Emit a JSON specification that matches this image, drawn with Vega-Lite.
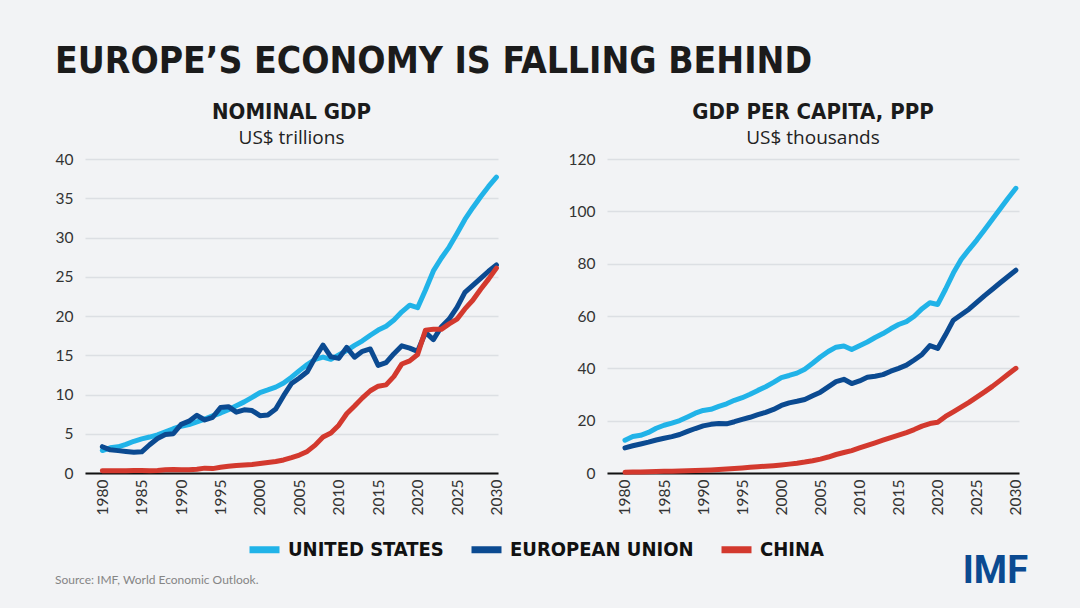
{
  "$schema": "https://vega.github.io/schema/vega-lite/v6.json",
  "background": "#f2f3f5",
  "padding": {"left": 55, "top": 43, "right": 52, "bottom": 30},
  "title": {
    "text": "EUROPE’S ECONOMY IS FALLING BEHIND",
    "anchor": "start",
    "frame": "bounds",
    "font": "'DejaVu Sans Condensed', Roboto",
    "fontSize": 37,
    "fontWeight": "bold",
    "color": "#1b1b1b",
    "offset": 20
  },
  "datasets": {
    "gdp": [
      {"year": 1980, "UNITED STATES": 2.86, "EUROPEAN UNION": 3.35, "CHINA": 0.30},
      {"year": 1981, "UNITED STATES": 3.21, "EUROPEAN UNION": 2.95, "CHINA": 0.29},
      {"year": 1982, "UNITED STATES": 3.34, "EUROPEAN UNION": 2.85, "CHINA": 0.28},
      {"year": 1983, "UNITED STATES": 3.64, "EUROPEAN UNION": 2.75, "CHINA": 0.30},
      {"year": 1984, "UNITED STATES": 4.04, "EUROPEAN UNION": 2.65, "CHINA": 0.31},
      {"year": 1985, "UNITED STATES": 4.34, "EUROPEAN UNION": 2.70, "CHINA": 0.31},
      {"year": 1986, "UNITED STATES": 4.58, "EUROPEAN UNION": 3.60, "CHINA": 0.30},
      {"year": 1987, "UNITED STATES": 4.86, "EUROPEAN UNION": 4.40, "CHINA": 0.33},
      {"year": 1988, "UNITED STATES": 5.24, "EUROPEAN UNION": 4.90, "CHINA": 0.41},
      {"year": 1989, "UNITED STATES": 5.64, "EUROPEAN UNION": 5.00, "CHINA": 0.46},
      {"year": 1990, "UNITED STATES": 5.96, "EUROPEAN UNION": 6.20, "CHINA": 0.40},
      {"year": 1991, "UNITED STATES": 6.16, "EUROPEAN UNION": 6.60, "CHINA": 0.41},
      {"year": 1992, "UNITED STATES": 6.52, "EUROPEAN UNION": 7.35, "CHINA": 0.49},
      {"year": 1993, "UNITED STATES": 6.86, "EUROPEAN UNION": 6.75, "CHINA": 0.62},
      {"year": 1994, "UNITED STATES": 7.29, "EUROPEAN UNION": 7.10, "CHINA": 0.56},
      {"year": 1995, "UNITED STATES": 7.64, "EUROPEAN UNION": 8.35, "CHINA": 0.73},
      {"year": 1996, "UNITED STATES": 8.07, "EUROPEAN UNION": 8.45, "CHINA": 0.86},
      {"year": 1997, "UNITED STATES": 8.58, "EUROPEAN UNION": 7.75, "CHINA": 0.96},
      {"year": 1998, "UNITED STATES": 9.06, "EUROPEAN UNION": 8.05, "CHINA": 1.03},
      {"year": 1999, "UNITED STATES": 9.63, "EUROPEAN UNION": 7.95, "CHINA": 1.09},
      {"year": 2000, "UNITED STATES": 10.25, "EUROPEAN UNION": 7.30, "CHINA": 1.21},
      {"year": 2001, "UNITED STATES": 10.58, "EUROPEAN UNION": 7.40, "CHINA": 1.34},
      {"year": 2002, "UNITED STATES": 10.94, "EUROPEAN UNION": 8.15, "CHINA": 1.47},
      {"year": 2003, "UNITED STATES": 11.46, "EUROPEAN UNION": 9.85, "CHINA": 1.66},
      {"year": 2004, "UNITED STATES": 12.21, "EUROPEAN UNION": 11.40, "CHINA": 1.96},
      {"year": 2005, "UNITED STATES": 13.04, "EUROPEAN UNION": 12.10, "CHINA": 2.29},
      {"year": 2006, "UNITED STATES": 13.82, "EUROPEAN UNION": 12.90, "CHINA": 2.75},
      {"year": 2007, "UNITED STATES": 14.47, "EUROPEAN UNION": 14.70, "CHINA": 3.55},
      {"year": 2008, "UNITED STATES": 14.77, "EUROPEAN UNION": 16.30, "CHINA": 4.59},
      {"year": 2009, "UNITED STATES": 14.48, "EUROPEAN UNION": 14.80, "CHINA": 5.10},
      {"year": 2010, "UNITED STATES": 15.05, "EUROPEAN UNION": 14.60, "CHINA": 6.09},
      {"year": 2011, "UNITED STATES": 15.60, "EUROPEAN UNION": 16.00, "CHINA": 7.55},
      {"year": 2012, "UNITED STATES": 16.25, "EUROPEAN UNION": 14.75, "CHINA": 8.53},
      {"year": 2013, "UNITED STATES": 16.84, "EUROPEAN UNION": 15.50, "CHINA": 9.57},
      {"year": 2014, "UNITED STATES": 17.55, "EUROPEAN UNION": 15.80, "CHINA": 10.48},
      {"year": 2015, "UNITED STATES": 18.21, "EUROPEAN UNION": 13.70, "CHINA": 11.06},
      {"year": 2016, "UNITED STATES": 18.70, "EUROPEAN UNION": 14.05, "CHINA": 11.23},
      {"year": 2017, "UNITED STATES": 19.48, "EUROPEAN UNION": 15.20, "CHINA": 12.31},
      {"year": 2018, "UNITED STATES": 20.53, "EUROPEAN UNION": 16.20, "CHINA": 13.89},
      {"year": 2019, "UNITED STATES": 21.38, "EUROPEAN UNION": 15.90, "CHINA": 14.28},
      {"year": 2020, "UNITED STATES": 21.06, "EUROPEAN UNION": 15.50, "CHINA": 15.10},
      {"year": 2021, "UNITED STATES": 23.32, "EUROPEAN UNION": 17.90, "CHINA": 18.20},
      {"year": 2022, "UNITED STATES": 25.74, "EUROPEAN UNION": 17.00, "CHINA": 18.30},
      {"year": 2023, "UNITED STATES": 27.36, "EUROPEAN UNION": 18.60, "CHINA": 18.30},
      {"year": 2024, "UNITED STATES": 28.78, "EUROPEAN UNION": 19.60, "CHINA": 19.00},
      {"year": 2025, "UNITED STATES": 30.50, "EUROPEAN UNION": 21.10, "CHINA": 19.60},
      {"year": 2026, "UNITED STATES": 32.30, "EUROPEAN UNION": 23.00, "CHINA": 20.90},
      {"year": 2027, "UNITED STATES": 33.80, "EUROPEAN UNION": 23.90, "CHINA": 22.00},
      {"year": 2028, "UNITED STATES": 35.20, "EUROPEAN UNION": 24.80, "CHINA": 23.40},
      {"year": 2029, "UNITED STATES": 36.50, "EUROPEAN UNION": 25.70, "CHINA": 24.70},
      {"year": 2030, "UNITED STATES": 37.70, "EUROPEAN UNION": 26.50, "CHINA": 26.10}
    ],
    "ppp": [
      {"year": 1980, "UNITED STATES": 12.55, "EUROPEAN UNION": 9.6, "CHINA": 0.31},
      {"year": 1981, "UNITED STATES": 13.95, "EUROPEAN UNION": 10.4, "CHINA": 0.36},
      {"year": 1982, "UNITED STATES": 14.41, "EUROPEAN UNION": 11.1, "CHINA": 0.41},
      {"year": 1983, "UNITED STATES": 15.51, "EUROPEAN UNION": 11.8, "CHINA": 0.47},
      {"year": 1984, "UNITED STATES": 17.09, "EUROPEAN UNION": 12.6, "CHINA": 0.55},
      {"year": 1985, "UNITED STATES": 18.24, "EUROPEAN UNION": 13.3, "CHINA": 0.63},
      {"year": 1986, "UNITED STATES": 19.07, "EUROPEAN UNION": 13.9, "CHINA": 0.69},
      {"year": 1987, "UNITED STATES": 20.04, "EUROPEAN UNION": 14.7, "CHINA": 0.78},
      {"year": 1988, "UNITED STATES": 21.42, "EUROPEAN UNION": 15.9, "CHINA": 0.88},
      {"year": 1989, "UNITED STATES": 22.86, "EUROPEAN UNION": 17.0, "CHINA": 0.95},
      {"year": 1990, "UNITED STATES": 23.89, "EUROPEAN UNION": 18.0, "CHINA": 1.01},
      {"year": 1991, "UNITED STATES": 24.34, "EUROPEAN UNION": 18.6, "CHINA": 1.13},
      {"year": 1992, "UNITED STATES": 25.47, "EUROPEAN UNION": 18.9, "CHINA": 1.31},
      {"year": 1993, "UNITED STATES": 26.46, "EUROPEAN UNION": 18.8, "CHINA": 1.52},
      {"year": 1994, "UNITED STATES": 27.78, "EUROPEAN UNION": 19.6, "CHINA": 1.74},
      {"year": 1995, "UNITED STATES": 28.78, "EUROPEAN UNION": 20.5, "CHINA": 1.95},
      {"year": 1996, "UNITED STATES": 30.07, "EUROPEAN UNION": 21.3, "CHINA": 2.16},
      {"year": 1997, "UNITED STATES": 31.57, "EUROPEAN UNION": 22.3, "CHINA": 2.38},
      {"year": 1998, "UNITED STATES": 32.95, "EUROPEAN UNION": 23.2, "CHINA": 2.58},
      {"year": 1999, "UNITED STATES": 34.62, "EUROPEAN UNION": 24.3, "CHINA": 2.80},
      {"year": 2000, "UNITED STATES": 36.45, "EUROPEAN UNION": 25.8, "CHINA": 3.08},
      {"year": 2001, "UNITED STATES": 37.27, "EUROPEAN UNION": 26.8, "CHINA": 3.39},
      {"year": 2002, "UNITED STATES": 38.17, "EUROPEAN UNION": 27.4, "CHINA": 3.74},
      {"year": 2003, "UNITED STATES": 39.68, "EUROPEAN UNION": 28.1, "CHINA": 4.17},
      {"year": 2004, "UNITED STATES": 41.93, "EUROPEAN UNION": 29.5, "CHINA": 4.68},
      {"year": 2005, "UNITED STATES": 44.31, "EUROPEAN UNION": 30.9, "CHINA": 5.32},
      {"year": 2006, "UNITED STATES": 46.44, "EUROPEAN UNION": 32.9, "CHINA": 6.11},
      {"year": 2007, "UNITED STATES": 48.09, "EUROPEAN UNION": 34.9, "CHINA": 7.07},
      {"year": 2008, "UNITED STATES": 48.57, "EUROPEAN UNION": 35.8, "CHINA": 7.82},
      {"year": 2009, "UNITED STATES": 47.19, "EUROPEAN UNION": 34.2, "CHINA": 8.58},
      {"year": 2010, "UNITED STATES": 48.65, "EUROPEAN UNION": 35.2, "CHINA": 9.56},
      {"year": 2011, "UNITED STATES": 50.07, "EUROPEAN UNION": 36.6, "CHINA": 10.59},
      {"year": 2012, "UNITED STATES": 51.78, "EUROPEAN UNION": 37.0, "CHINA": 11.55},
      {"year": 2013, "UNITED STATES": 53.29, "EUROPEAN UNION": 37.6, "CHINA": 12.53},
      {"year": 2014, "UNITED STATES": 55.12, "EUROPEAN UNION": 38.9, "CHINA": 13.50},
      {"year": 2015, "UNITED STATES": 56.76, "EUROPEAN UNION": 40.0, "CHINA": 14.45},
      {"year": 2016, "UNITED STATES": 57.87, "EUROPEAN UNION": 41.2, "CHINA": 15.45},
      {"year": 2017, "UNITED STATES": 59.91, "EUROPEAN UNION": 43.2, "CHINA": 16.60},
      {"year": 2018, "UNITED STATES": 62.81, "EUROPEAN UNION": 45.3, "CHINA": 17.90},
      {"year": 2019, "UNITED STATES": 65.08, "EUROPEAN UNION": 48.7, "CHINA": 18.90},
      {"year": 2020, "UNITED STATES": 64.41, "EUROPEAN UNION": 47.6, "CHINA": 19.40},
      {"year": 2021, "UNITED STATES": 70.22, "EUROPEAN UNION": 52.8, "CHINA": 21.60},
      {"year": 2022, "UNITED STATES": 76.40, "EUROPEAN UNION": 58.4, "CHINA": 23.40},
      {"year": 2023, "UNITED STATES": 81.60, "EUROPEAN UNION": 60.5, "CHINA": 25.20},
      {"year": 2024, "UNITED STATES": 85.40, "EUROPEAN UNION": 62.6, "CHINA": 27.00},
      {"year": 2025, "UNITED STATES": 89.00, "EUROPEAN UNION": 65.2, "CHINA": 29.00},
      {"year": 2026, "UNITED STATES": 93.00, "EUROPEAN UNION": 67.8, "CHINA": 31.00},
      {"year": 2027, "UNITED STATES": 97.00, "EUROPEAN UNION": 70.2, "CHINA": 33.10},
      {"year": 2028, "UNITED STATES": 101.00, "EUROPEAN UNION": 72.7, "CHINA": 35.40},
      {"year": 2029, "UNITED STATES": 105.00, "EUROPEAN UNION": 75.1, "CHINA": 37.70},
      {"year": 2030, "UNITED STATES": 108.80, "EUROPEAN UNION": 77.5, "CHINA": 40.00}
    ]
  },
  "vconcat": [
    {
      "hconcat": [
        {
          "width": 413,
          "height": 314,
          "title": {"text": "NOMINAL GDP", "subtitle": "US$ trillions"},
          "data": {"name": "gdp"},
          "transform": [{"fold": ["UNITED STATES", "EUROPEAN UNION", "CHINA"], "as": ["country", "value"]}],
          "mark": {"type": "line", "strokeWidth": 5, "strokeCap": "round", "strokeJoin": "round"},
          "encoding": {
            "x": {"field": "year", "type": "quantitative", "scale": {"domain": [1977.8, 2030.2], "nice": false, "zero": false}},
            "y": {"field": "value", "type": "quantitative", "scale": {"domain": [0, 40], "nice": false}, "axis": {"values": [0, 5, 10, 15, 20, 25, 30, 35, 40]}},
            "color": {
              "field": "country", "type": "nominal",
              "scale": {"domain": ["UNITED STATES", "EUROPEAN UNION", "CHINA"], "range": ["#21b3e8", "#0b4a91", "#d3392e"]},
              "legend": {"orient": "none", "legendX": 161, "legendY": 372, "direction": "horizontal"}
            }
          }
        },
        {
          "width": 412,
          "height": 314,
          "title": {"text": "GDP PER CAPITA, PPP", "subtitle": "US$ thousands"},
          "data": {"name": "ppp"},
          "transform": [{"fold": ["UNITED STATES", "EUROPEAN UNION", "CHINA"], "as": ["country", "value"]}],
          "mark": {"type": "line", "strokeWidth": 5, "strokeCap": "round", "strokeJoin": "round"},
          "encoding": {
            "x": {"field": "year", "type": "quantitative", "scale": {"domain": [1977.7, 2030.4], "nice": false, "zero": false}},
            "y": {"field": "value", "type": "quantitative", "scale": {"domain": [0, 120], "nice": false}, "axis": {"values": [0, 20, 40, 60, 80, 100, 120]}},
            "color": {
              "field": "country", "type": "nominal",
              "scale": {"domain": ["UNITED STATES", "EUROPEAN UNION", "CHINA"], "range": ["#21b3e8", "#0b4a91", "#d3392e"]},
              "legend": {"orient": "none", "legendX": 161, "legendY": 372, "direction": "horizontal"}
            }
          }
        }
      ],
      "spacing": 63
    },
    {
      "hconcat": [
        {
          "width": 400, "height": 1,
          "title": {"text": "Source: IMF, World Economic Outlook.", "anchor": "start", "frame": "group", "font": "Lato", "fontSize": 12, "fontWeight": "normal", "color": "#858585", "offset": 0, "baseline": "alphabetic", "dx": -30, "dy": -25},
          "data": {"values": []},
          "mark": "text"
        },
        {
          "width": 543, "height": 1,
          "title": {"text": "IMF", "anchor": "end", "frame": "group", "font": "Roboto", "fontSize": 38, "fontWeight": "bold", "color": "#0b4a91", "offset": 0, "baseline": "alphabetic"},
          "data": {"values": []},
          "mark": "text"
        }
      ],
      "spacing": 0
    }
  ],
  "spacing": 38,
  "config": {
    "view": {"stroke": null},
    "title": {
      "anchor": "middle",
      "frame": "group",
      "font": "'DejaVu Sans Condensed', Roboto",
      "fontSize": 22,
      "fontWeight": "bold",
      "color": "#1b1b1b",
      "subtitleFont": "Open Sans",
      "subtitleFontSize": 19,
      "subtitleColor": "#222",
      "subtitlePadding": 5,
      "offset": 3
    },
    "axisX": {
      "values": [1980, 1985, 1990, 1995, 2000, 2005, 2010, 2015, 2020, 2025, 2030],
      "format": "d",
      "labelAngle": -90,
      "labelFont": "Lato",
      "labelFontSize": 15.5,
      "labelColor": "#333",
      "labelPadding": 6,
      "ticks": false,
      "grid": false,
      "domain": true,
      "domainColor": "#111",
      "domainWidth": 2,
      "title": null
    },
    "axisY": {
      "grid": true,
      "gridColor": "#dcdfe3",
      "gridWidth": 1.5,
      "domain": false,
      "ticks": false,
      "labelFont": "Lato",
      "labelFontSize": 15.5,
      "labelColor": "#333",
      "labelPadding": 12,
      "minExtent": 30,
      "maxExtent": 30,
      "title": null
    },
    "legend": {
      "title": null,
      "symbolType": "stroke",
      "symbolSize": 900,
      "symbolStrokeWidth": 7,
      "labelFont": "'DejaVu Sans Condensed', Roboto",
      "labelFontSize": 20,
      "labelFontWeight": "bold",
      "labelColor": "#111",
      "labelOffset": 5,
      "columnPadding": 13,
      "labelLimit": 400
    }
  }
}
